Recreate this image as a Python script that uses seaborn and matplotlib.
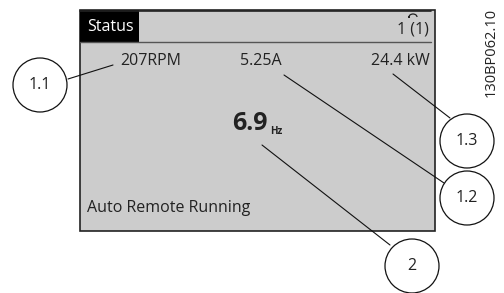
import matplotlib
matplotlib.use("Agg")
import matplotlib.pyplot as plt
import seaborn as sns
from matplotlib.patches import Rectangle, Circle, Arc

# display readouts (status screen)
header_text = "Status"
page_text = "1 (1)"
readouts = ["207RPM", "5.25A", "24.4 kW"]
main_value = "6.9"
main_unit = "Hz"
status_line = "Auto Remote Running"
doc_code = "130BP062.10"

# callout labels and where their leader lines point (pixel coords)
callout_labels = ["1.1", "1.2", "1.3", "2"]
callout_centers = [(40, 85), (467, 198), (467, 141), (412, 266)]
leader_start = [(68, 79), (444, 183), (450, 118), (390, 245)]
leader_end = [(113, 65), (284, 75), (393, 74), (262, 145)]

sns.set_theme(style="white")
plt.rcParams["font.family"] = ["Open Sans", "DejaVu Sans"]

fig = plt.figure(figsize=(5.04, 2.93), dpi=100)
ax = fig.add_axes([0, 0, 1, 1])
ax.set_xlim(0, 504)
ax.set_ylim(293, 0)
ax.axis("off")

# display panel
ax.add_patch(Rectangle((80, 10), 355, 221, facecolor="#cccccc",
                       edgecolor="#222222", lw=1.2, zorder=1))
ax.add_patch(Rectangle((80, 10), 59, 32, facecolor="black", edgecolor="none", zorder=2))
ax.plot([80, 431], [42, 42], color="#555555", lw=1.0, zorder=2)
ax.plot([80, 431], [10.5, 10.5], color="#222222", lw=1.2, zorder=2)

ax.text(87, 27, header_text, color="white", fontsize=11.5, va="center", ha="left", zorder=3)
ax.text(429, 30, page_text, color="#222222", fontsize=11.5, va="center", ha="right", zorder=3)
# small "back" arc icon above the page counter (y axis is inverted)
ax.add_patch(Arc((413, 17), 8, 6, theta1=180, theta2=360, color="#222222", lw=0.9, zorder=3))
ax.add_patch(Rectangle((408, 16), 2, 2, facecolor="#222222", edgecolor="none", zorder=3))

ax.text(120, 61, readouts[0], color="#222222", fontsize=11.5, va="center", ha="left", zorder=3)
ax.text(261, 61, readouts[1], color="#222222", fontsize=11.5, va="center", ha="center", zorder=3)
ax.text(430, 61, readouts[2], color="#222222", fontsize=11.5, va="center", ha="right", zorder=3)

ax.text(268, 123, main_value, color="#222222", fontsize=18, fontweight="bold",
        va="center", ha="right", zorder=3)
ax.text(270, 131, main_unit, color="#222222", fontsize=7, fontweight="bold",
        va="center", ha="left", zorder=3)

ax.text(87, 208, status_line, color="#222222", fontsize=11.5, va="center", ha="left", zorder=3)

# leader lines
for (x0, y0), (x1, y1) in zip(leader_start, leader_end):
    sns.lineplot(x=[x0, x1], y=[y0, y1], ax=ax, color="#111111", lw=0.8,
                 estimator=None, sort=False, zorder=4)

# callout circles
for label, (cx, cy) in zip(callout_labels, callout_centers):
    ax.add_patch(Circle((cx, cy), 27, facecolor="white", edgecolor="#111111", lw=0.9, zorder=5))
    ax.text(cx, cy, label, color="#222222", fontsize=11.5, va="center", ha="center", zorder=6)

ax.text(491, 52, doc_code, color="#222222", fontsize=10.5, rotation=90,
        va="center", ha="center", zorder=3)

fig.savefig("out.png", dpi=100)
